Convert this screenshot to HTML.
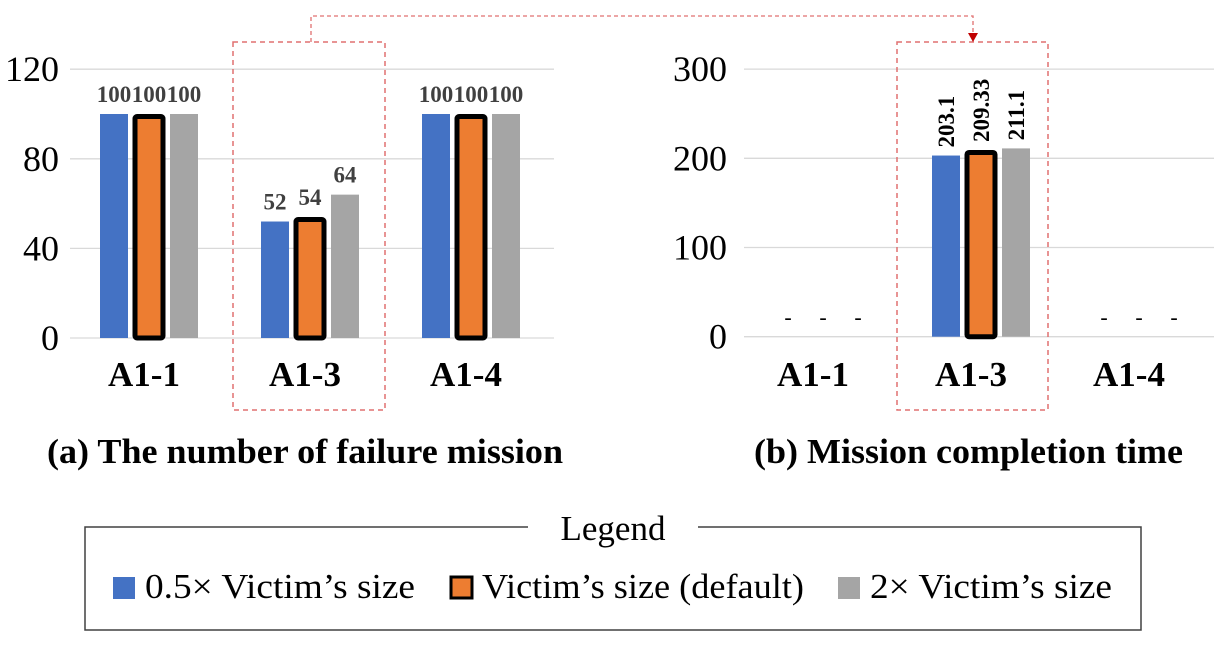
<!DOCTYPE html>
<html><head><meta charset="utf-8"><style>
body{margin:0;background:#fff}
svg text{font-family:"Liberation Serif",serif}
</style></head><body>
<svg width="1214" height="650" viewBox="0 0 1214 650" id="fig">
<g id="g"></g>
</svg>
<script>
const categories=["A1-1","A1-3","A1-4"];
const failBlue=[100,52,100];
const failOrange=[100,54,100];
const failGray=[100,64,100];
const timeBlue=[null,203.1,null];
const timeOrange=[null,209.33,null];
const timeGray=[null,211.1,null];
const failTicks=[0,40,80,120];
const timeTicks=[0,100,200,300];
const NS="http://www.w3.org/2000/svg";
const g=document.getElementById('g');
function el(t,a,txt){const e=document.createElementNS(NS,t);for(const k in a)e.setAttribute(k,a[k]);if(txt!==undefined)e.textContent=txt;g.appendChild(e);return e;}
const colors=["#4472c4","#ed7d31","#a5a5a5"];
function chart(cfg){
  const y=v=>cfg.y0-v*cfg.scale;
  cfg.ticks.forEach(t=>{
    const l=el('line',{x1:cfg.gx0,x2:cfg.gx1,y1:y(t),y2:y(t),stroke:'#d9d9d9','stroke-width':1.3});
    
    const tx=el('text',{x:cfg.tickX,y:y(t)+12,'text-anchor':'end','font-size':36,fill:'#000'},String(t));
    
  });
  categories.forEach((c,i)=>{
    const cx=cfg.c0+i*cfg.pitch;
    const lb=el('text',{x:cx-cfg.lblOff,y:386,'text-anchor':'middle','font-size':35,'font-weight':'bold'},c);
    
    const series=[cfg.s[0][i],cfg.s[1][i],cfg.s[2][i]];
    series.forEach((v,j)=>{
      const bx=cx+(j-1)*35;
      if(v==null){
        const d=el('text',{x:bx,y:y(0)-12,'text-anchor':'middle','font-size':22},'-');
        
        return;
      }
      let r;
      if(j==1){r=el('rect',{x:bx-14,y:y(v)+2.5,width:28,height:v*cfg.scale-2.5,fill:colors[j],stroke:'#000','stroke-width':5,rx:2});}
      else r=el('rect',{x:bx-14,y:y(v),width:28,height:v*cfg.scale,fill:colors[j]});
      
      if(cfg.rot){
        const t=el('text',{x:bx+8,y:y(v)-8,'font-size':23,'font-weight':'bold',transform:`rotate(-90 ${bx+8} ${y(v)-8})`},String(v));
        
      } else {
        const t=el('text',{x:bx,y:y(v)-12,'text-anchor':'middle','font-size':23,'font-weight':'bold',fill:'#404040'},String(v));
        
      }
    });
  });
}
chart({y0:338,scale:2.24,ticks:failTicks,gx0:70,gx1:554,tickX:59,c0:149,pitch:161,lblOff:5,s:[failBlue,failOrange,failGray]});
chart({y0:336.7,scale:0.892,ticks:timeTicks,gx0:744,gx1:1214,tickX:727,c0:981-158,pitch:158,lblOff:10,s:[timeBlue,timeOrange,timeGray],rot:true});
</script>
<script>
const s=document.getElementById('fig');
function add(t,a,txt,name,inter){const e=document.createElementNS(NS,t);for(const k in a)e.setAttribute(k,a[k]);if(txt!==undefined)e.textContent=txt;s.appendChild(e);return e;}
add('rect',{x:233,y:42,width:152,height:368,fill:'none',stroke:'#e07070','stroke-width':1.5,'stroke-dasharray':'5,4'},undefined,'highlight-box-left');
add('rect',{x:897,y:42,width:151,height:368,fill:'none',stroke:'#e07070','stroke-width':1.5,'stroke-dasharray':'5,4'},undefined,'highlight-box-right');
add('polyline',{points:'311,42 311,16 973,16 973,34',fill:'none',stroke:'#e07070','stroke-width':1.3,'stroke-dasharray':'4,3'},undefined,'connector-line');
add('polygon',{points:'968,33 978,33 973,42',fill:'#c00000'},undefined,'connector-arrow');
add('text',{x:47,y:463,'font-size':35,'font-weight':'bold',textLength:516,lengthAdjust:'spacingAndGlyphs'},'(a) The number of failure mission','left-chart-title');
add('text',{x:754,y:463,'font-size':35,'font-weight':'bold',textLength:429,lengthAdjust:'spacingAndGlyphs'},'(b) Mission completion time','right-chart-title');
add('path',{d:'M528,527 H85 V630 H1141 V527 H698',fill:'none',stroke:'#404040','stroke-width':1.5},undefined,'legend-box');
add('text',{x:613,y:540,'text-anchor':'middle','font-size':35},'Legend','legend-title');
add('rect',{x:113,y:577,width:22,height:22,fill:'#4472c4'},undefined,'legend-swatch-blue');
add('text',{x:145,y:598,'font-size':35,textLength:270,lengthAdjust:'spacingAndGlyphs'},'0.5× Victim’s size','legend-entry-half');
add('rect',{x:451,y:577,width:21,height:21,fill:'#ed7d31',stroke:'#000','stroke-width':3},undefined,'legend-swatch-orange');
add('text',{x:482,y:598,'font-size':35,textLength:322,lengthAdjust:'spacingAndGlyphs'},'Victim’s size (default)','legend-entry-default');
add('rect',{x:838,y:577,width:22,height:22,fill:'#a5a5a5'},undefined,'legend-swatch-gray');
add('text',{x:870,y:598,'font-size':35,textLength:242,lengthAdjust:'spacingAndGlyphs'},'2× Victim’s size','legend-entry-double');
</script>
</body></html>
